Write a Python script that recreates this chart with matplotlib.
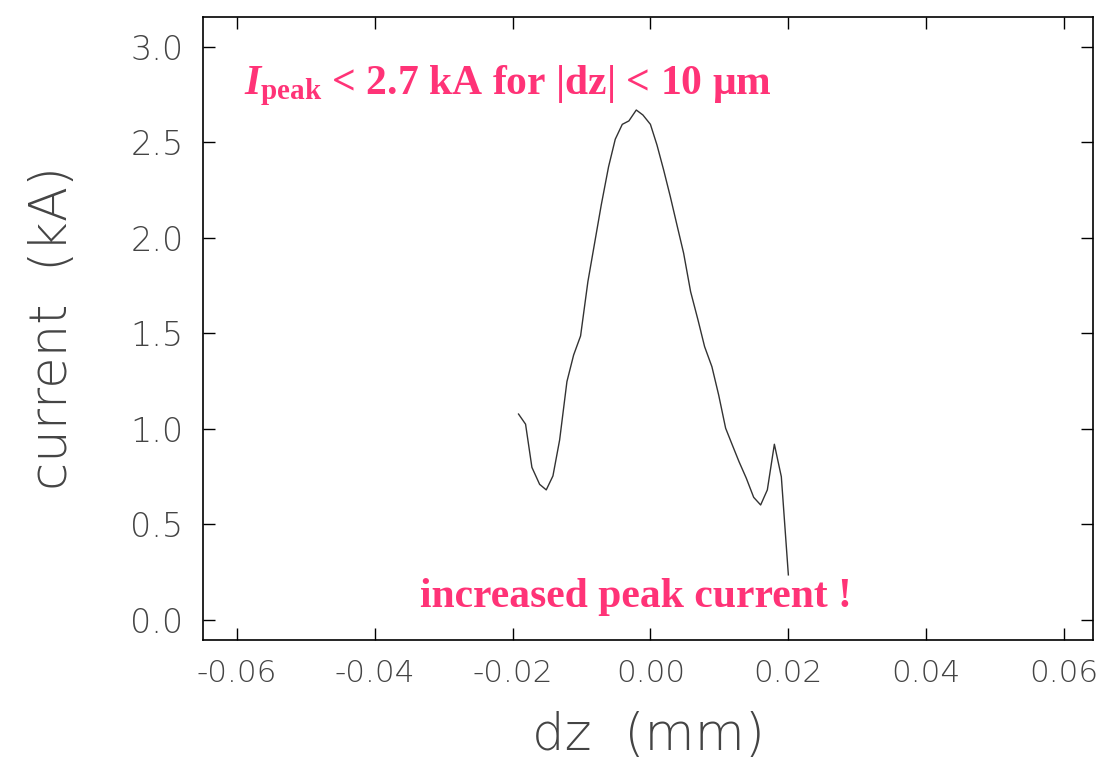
import matplotlib
matplotlib.use("Agg")
import matplotlib.pyplot as plt

# data
dz = [-0.01913, -0.01811, -0.01719, -0.01607, -0.01511, -0.01414, -0.01317,
      -0.01211, -0.01114, -0.01013, -0.00907, -0.00810, -0.00713, -0.00607,
      -0.00510, -0.00408, -0.00312, -0.00205, -0.00109, 0.00000, 0.00095,
      0.00192, 0.00289, 0.00385, 0.00482, 0.00583, 0.00690, 0.00786, 0.00892,
      0.00990, 0.01091, 0.01188, 0.01285, 0.01391, 0.01498, 0.01599, 0.01696,
      0.01798, 0.01899, 0.02001]
current = [1.078, 1.025, 0.799, 0.710, 0.681, 0.754, 0.942, 1.248, 1.387, 1.487,
           1.771, 1.972, 2.173, 2.373, 2.517, 2.595, 2.613, 2.670, 2.644, 2.595,
           2.487, 2.356, 2.216, 2.068, 1.920, 1.719, 1.571, 1.431, 1.326, 1.178,
           1.004, 0.916, 0.829, 0.742, 0.642, 0.602, 0.681, 0.920, 0.750, 0.236]

xticks = [-0.06, -0.04, -0.02, 0.00, 0.02, 0.04, 0.06]
xticklabels = ["-0.06", "-0.04", "-0.02", "0.00", "0.02", "0.04", "0.06"]
yticks = [0.0, 0.5, 1.0, 1.5, 2.0, 2.5, 3.0]
yticklabels = ["0.0", "0.5", "1.0", "1.5", "2.0", "2.5", "3.0"]

pink = "#FF3377"

plt.rcParams['mathtext.fontset'] = 'custom'
plt.rcParams['mathtext.rm'] = 'Liberation Serif:bold'
plt.rcParams['mathtext.it'] = 'Liberation Serif:italic:bold'
plt.rcParams['mathtext.bf'] = 'Liberation Serif:bold'

fig = plt.figure(figsize=(10.99, 7.68), dpi=100)
ax = fig.add_axes([203/1099, 1-640/768, (1093-203)/1099, (640-17)/768])

ax.plot(dz, current, color="#333333", lw=1.0)

ax.set_xlim(-0.0649, 0.0642)
ax.set_ylim(-0.105, 3.157)

lab_font = dict(family="DejaVu Sans", weight="light", color="#444444")
ax.set_xticks(xticks)
ax.set_xticklabels(xticklabels, fontsize=22.5, **lab_font)
ax.set_yticks(yticks)
ax.set_yticklabels(yticklabels, fontsize=24, **lab_font)
ax.tick_params(direction="in", length=8.5, width=1.0, top=True, right=True,
               colors="black", labelcolor="#444444")
ax.tick_params(axis="x", pad=14)
ax.tick_params(axis="y", pad=14)
for s in ax.spines.values():
    s.set_linewidth(1.2)

ax.set_xlabel("dz  (mm)", fontsize=37, labelpad=16, **lab_font)
ax.set_ylabel("current  (kA)", fontsize=37, labelpad=38, **lab_font)

ax.text(-0.0589, 2.75, r"$\mathit{I}_{\mathrm{peak}}$ < 2.7 kA for |dz| < 10 μm",
        fontsize=30, family="Liberation Serif", weight="bold", color=pink,
        ha="left", va="baseline")
ax.text(-0.0021, 0.068, "increased peak current !",
        fontsize=30, family="Liberation Serif", weight="bold", color=pink,
        ha="center", va="baseline")

fig.savefig("out.png", dpi=100)
